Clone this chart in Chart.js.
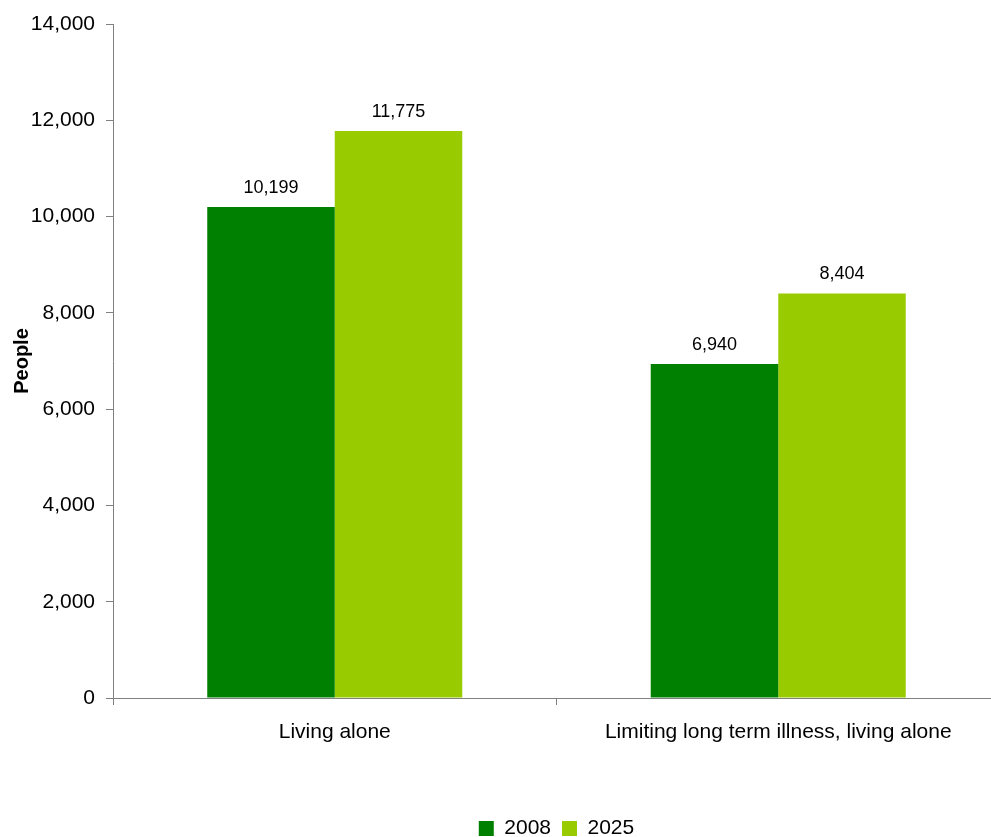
<!DOCTYPE html>
<html>
<head>
<meta charset="utf-8">
<script src="https://cdn.jsdelivr.net/npm/chart.js@4"></script>
<style>
  html, body { margin: 0; padding: 0; background: #fff; overflow: hidden; }
  #wrap { width: 991px; height: 837px; overflow: hidden; }
</style>
</head>
<body>
<div id="wrap"><canvas id="chart" width="1000" height="849"></canvas></div>
<script>
const categories = ['Living alone', 'Limiting long term illness, living alone'];
const years = ['2008', '2025'];
const values2008 = [10199, 6940];
const values2025 = [11775, 8404];

const font = 'Liberation Sans, Arial, Helvetica, sans-serif';
const axisGrey = '#808080';

// writes each bar's value just above it
const barValues = {
	id: 'barValues',
	afterDatasetsDraw(chart) {
		const c = chart.ctx;
		c.save();
		c.font = '18px ' + font;
		c.fillStyle = '#000';
		c.textAlign = 'center';
		c.textBaseline = 'alphabetic';
		chart.data.datasets.forEach((ds, i) => {
			chart.getDatasetMeta(i).data.forEach((bar, j) => {
				c.fillText(ds.data[j].toLocaleString('en-US'), bar.x, bar.y - 14);
			});
		});
		c.restore();
	},
};

const ctx = document.getElementById('chart');

new Chart(ctx, {
	type: 'bar',
	data: {
		labels: categories,
		datasets: [
			{ label: years[0], data: values2008, backgroundColor: '#008000' },
			{ label: years[1], data: values2025, backgroundColor: '#99CC00' },
		],
	},
	plugins: [barValues],
	options: {
		responsive: false,
		animation: false,
		layout: { padding: { top: 24, left: 0, right: 0, bottom: 0 } },
		datasets: { bar: { barPercentage: 1, categoryPercentage: 0.575 } },
		plugins: {
			tooltip: { enabled: false },
			legend: {
				position: 'bottom',
				fullSize: false,
				labels: {
					boxWidth: 15,
					boxHeight: 15,
					padding: 11,
					color: '#000',
					font: { family: font, size: 21 },
				},
			},
		},
		scales: {
			x: {
				afterFit: (s) => { s.height = 109; },
				grid: {
					drawOnChartArea: false,
					drawTicks: true,
					tickLength: 7,
					color: axisGrey,
				},
				border: { color: axisGrey },
				ticks: {
					color: '#000',
					padding: 15,
					maxRotation: 0,
					font: { family: font, size: 21 },
				},
			},
			y: {
				min: 0,
				max: 14000,
				afterFit: (s) => { s.width = 113; },
				grid: {
					drawOnChartArea: false,
					drawTicks: true,
					tickLength: 7,
					color: axisGrey,
				},
				border: { color: axisGrey },
				ticks: {
					stepSize: 2000,
					color: '#000',
					padding: 11,
					font: { family: font, size: 21 },
					callback: (v) => v.toLocaleString('en-US'),
				},
				title: {
					display: true,
					text: 'People',
					color: '#000',
					padding: { top: 10, bottom: 0 },
					font: { family: font, size: 20, weight: 'bold' },
				},
			},
		},
	},
});
</script>
</body>
</html>
